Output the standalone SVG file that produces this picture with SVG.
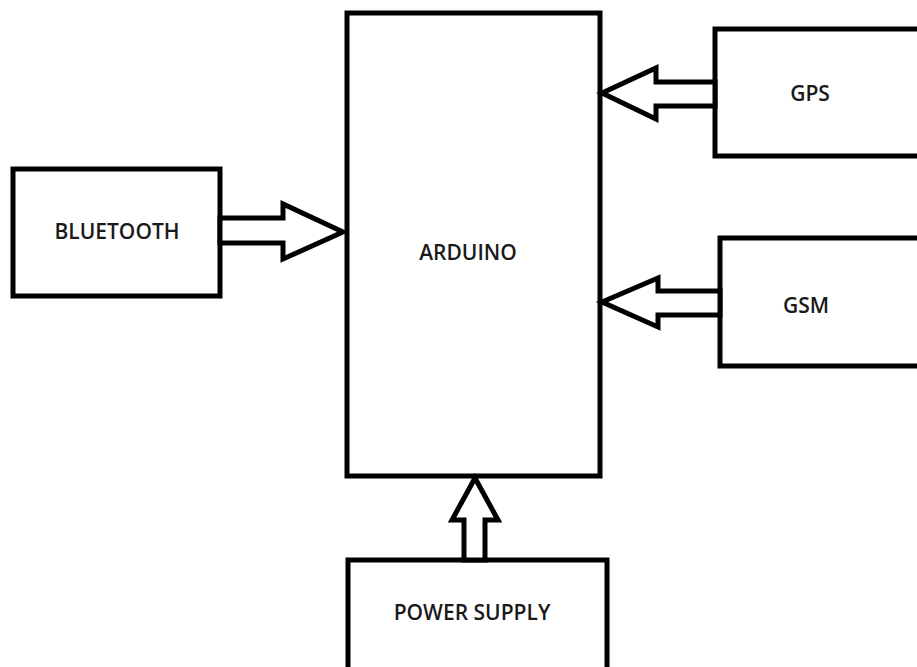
<svg xmlns="http://www.w3.org/2000/svg" width="917" height="667" viewBox="0 0 917 667">
<style>
.box{fill:#fff;stroke:#000;stroke-width:5}
.arr{fill:#fff;stroke:#000;stroke-width:5;stroke-linejoin:miter}
.lbl{font-family:"Open Sans","Liberation Sans",sans-serif;font-weight:600;font-size:21px;fill:#1a1a1a;text-anchor:middle;dominant-baseline:central}
</style>
<rect width="917" height="667" fill="#fff"/>
<g id="arduino"><rect class="box" x="347" y="13" width="253" height="463"/><text class="lbl" x="468" y="252">ARDUINO</text></g>
<g id="bluetooth"><rect class="box" x="13" y="169" width="207" height="127"/><text class="lbl" x="117" y="231">BLUETOOTH</text></g>
<g id="gps"><rect class="box" x="715" y="29" width="210" height="127"/><text class="lbl" x="810" y="93">GPS</text></g>
<g id="gsm"><rect class="box" x="720" y="238" width="205" height="128"/><text class="lbl" x="806" y="305">GSM</text></g>
<g id="power"><rect class="box" x="348" y="560" width="259" height="115"/><text class="lbl" x="472" y="612">POWER SUPPLY</text></g>
<g id="connectors">
<polygon class="arr" points="220,218 283,218 283,204 343,232 283,259 283,243 220,243"/>
<polygon class="arr" points="715,82 656,82 656,68 602,93 656,119 656,106 715,106"/>
<polygon class="arr" points="720,291 658,291 658,278 602,302 658,327 658,315 720,315"/>
<polygon class="arr" points="464,560 464,520 452,520 475,478 498,520 485,520 485,560"/>
</g>
</svg>
